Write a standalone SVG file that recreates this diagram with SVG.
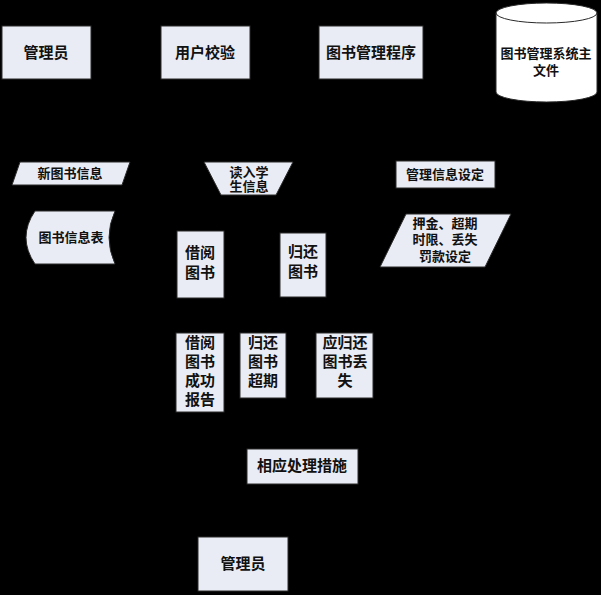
<svg xmlns="http://www.w3.org/2000/svg" width="601" height="595" viewBox="0 0 601 595">
<style>
.box{fill:#e9ecf4;stroke:#2a2a2a;stroke-width:1}
.db{fill:#ffffff;stroke:#2a2a2a;stroke-width:1}
text{font-family:"Liberation Serif","Noto Sans CJK SC",serif;font-weight:bold;fill:#111;text-anchor:middle;dominant-baseline:central}
.s13{font-size:13px}
.s15{font-size:15px}
</style>
<rect x="0" y="0" width="601" height="595" fill="#000"/>
<g id="connectors"></g>
<g id="admin1"><rect class="box" x="2" y="26" width="89" height="53"/><text class="s15" x="46" y="53">管理员</text></g>
<g id="usercheck"><rect class="box" x="161" y="26" width="89" height="53"/><text class="s15" x="205" y="53">用户校验</text></g>
<g id="program"><rect class="box" x="319" y="26" width="104" height="53"/><text class="s15" x="371" y="53">图书管理程序</text></g>
<g id="mainfile"><path class="db" d="M496,13 A50.5,10 0 0 1 597,13 L597,92 A50.5,10 0 0 1 496,92 Z"/><path fill="none" stroke="#2a2a2a" d="M496,13 A50.5,10 0 0 0 597,13"/><text class="s13" x="546" y="53">图书管理系统主</text><text class="s13" x="546" y="70">文件</text></g>
<g id="newbook"><polygon class="box" points="20,162 130,162 122,185 12,185"/><text class="s13" x="70" y="173">新图书信息</text></g>
<g id="readstudent"><polygon class="box" points="204,162 293,162 276,195 221,195"/><text class="s13" x="249" y="172">读入学</text><text class="s13" x="249" y="186">生信息</text></g>
<g id="booktable"><path class="box" d="M35,211 L115,211 Q103,237.5 115,264 L35,264 Q17,237.5 35,211 Z"/><text class="s13" x="71" y="237">图书信息表</text></g>
<g id="borrow"><rect class="box" x="177" y="231" width="47" height="67"/><text class="s15" x="200" y="253">借阅</text><text class="s15" x="200" y="273">图书</text></g>
<g id="return"><rect class="box" x="280" y="233" width="46" height="64"/><text class="s15" x="303" y="252">归还</text><text class="s15" x="303" y="272">图书</text></g>
<g id="mgmtset"><rect class="box" x="396" y="161" width="99" height="27"/><text class="s13" x="445" y="174">管理信息设定</text></g>
<g id="fineset"><polygon class="box" points="406,214 511,214 485,267 380,267"/><text class="s13" x="445" y="223">押金、超期</text><text class="s13" x="445" y="239">时限、丢失</text><text class="s13" x="445" y="256">罚款设定</text></g>
<g id="borrowok"><rect class="box" x="176" y="333" width="48" height="79"/><text class="s15" x="200" y="343">借阅</text><text class="s15" x="200" y="362">图书</text><text class="s15" x="200" y="381">成功</text><text class="s15" x="200" y="400">报告</text></g>
<g id="overdue"><rect class="box" x="240" y="333" width="46" height="65"/><text class="s15" x="263" y="343">归还</text><text class="s15" x="263" y="362">图书</text><text class="s15" x="263" y="381">超期</text></g>
<g id="lost"><rect class="box" x="316" y="333" width="57" height="65"/><text class="s15" x="345" y="343">应归还</text><text class="s15" x="345" y="362">图书丢</text><text class="s15" x="345" y="381">失</text></g>
<g id="handle"><rect class="box" x="247" y="449" width="111" height="35"/><text class="s15" x="302" y="466">相应处理措施</text></g>
<g id="admin2"><rect class="box" x="198" y="537" width="90" height="54"/><text class="s15" x="243" y="564">管理员</text></g>
</svg>
